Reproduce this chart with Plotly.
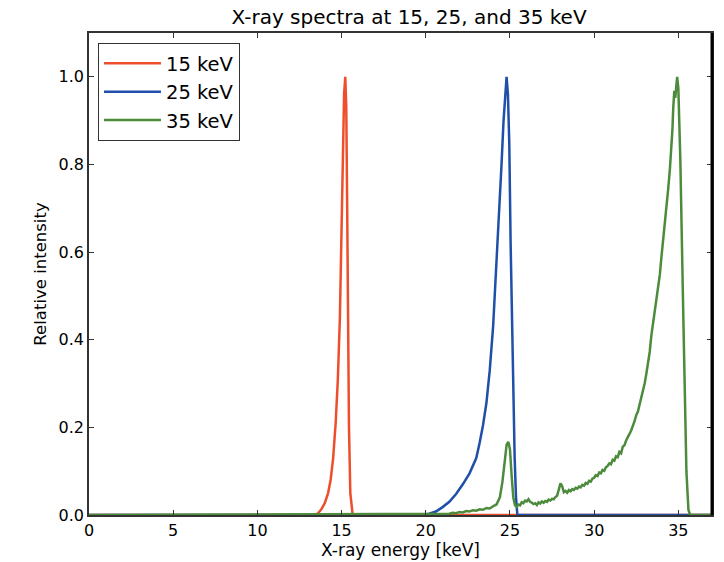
import plotly.graph_objects as go

# ---- data ----
red_x = [0, 13.4, 13.6, 13.8, 14.0, 14.2, 14.35, 14.5, 14.65, 14.78, 14.9, 15.0, 15.08, 15.15, 15.22,
         15.28, 15.33, 15.38, 15.44, 15.52, 15.6, 15.66, 37]
red_y = [0, 0, 0.004, 0.013, 0.027, 0.05, 0.08, 0.13, 0.21, 0.31, 0.45, 0.68, 0.85, 0.96, 1.0,
         0.93, 0.72, 0.43, 0.20, 0.05, 0.01, 0, 0]

blue_x = [0, 19.8, 20.2, 20.6, 21.0, 21.4, 21.8, 22.2, 22.6, 23.0, 23.2, 23.4, 23.6, 23.8, 24.0, 24.2,
          24.35, 24.5, 24.62, 24.72, 24.8, 24.88, 24.96, 25.04, 25.12, 25.2, 25.28, 25.36, 25.44, 37]
blue_y = [0, 0, 0.003, 0.008, 0.018, 0.030, 0.048, 0.070, 0.095, 0.13, 0.165, 0.205, 0.255, 0.33, 0.43, 0.57,
          0.68, 0.80, 0.90, 0.97, 1.0, 0.96, 0.85, 0.62, 0.42, 0.26, 0.13, 0.04, 0, 0]

green_x = [0, 21.4, 21.6, 21.8, 22.0, 22.2, 22.4, 22.6, 22.8, 23.0, 23.2, 23.4, 23.6, 23.8, 24.0, 24.2,
           24.4, 24.55, 24.7, 24.8, 24.9, 25.0, 25.1, 25.2, 25.3,
           25.4, 25.5, 25.6, 25.7, 25.8, 25.9, 26.0, 26.1, 26.2, 26.3, 26.4, 26.5, 26.6, 26.7, 26.8, 26.9,
           27.0, 27.1, 27.2, 27.3, 27.4, 27.5, 27.6, 27.7, 27.8, 27.9, 28.0, 28.1, 28.2, 28.3, 28.4, 28.5,
           28.6, 28.7, 28.8, 28.9, 29.0, 29.1, 29.2, 29.3, 29.4, 29.5, 29.6, 29.7, 29.8, 29.9, 30.0, 30.1,
           30.2, 30.3, 30.4, 30.5, 30.6, 30.7, 30.8, 30.9, 31.0, 31.1, 31.2, 31.3, 31.4, 31.5, 31.6, 31.7,
           31.8, 31.9, 32.0, 32.1, 32.2, 32.3, 32.4, 32.5, 32.6, 32.7, 32.8, 32.9, 33.0, 33.1, 33.2, 33.3,
           33.4, 33.5, 33.6, 33.7, 33.8, 33.9, 34.0, 34.1, 34.2, 34.3, 34.4, 34.5, 34.6, 34.65, 34.7,
           34.76, 34.82, 34.88, 34.93, 35.0, 35.12, 35.27, 35.37, 35.48, 35.6, 35.7, 37]
green_y = [0, 0.003, 0.005, 0.004, 0.007, 0.006, 0.009, 0.008, 0.011, 0.010, 0.013, 0.012, 0.016, 0.015, 0.020, 0.024,
           0.040, 0.075, 0.125, 0.160, 0.167, 0.150, 0.090, 0.040, 0.022,
           0.019, 0.024, 0.022, 0.029, 0.027, 0.033, 0.031, 0.036, 0.030, 0.028, 0.025, 0.027, 0.023, 0.029, 0.026, 0.031,
           0.028, 0.032, 0.030, 0.035, 0.033, 0.037, 0.036, 0.041, 0.044, 0.058, 0.072, 0.066, 0.052, 0.055, 0.051, 0.057,
           0.054, 0.059, 0.057, 0.062, 0.060, 0.065, 0.063, 0.069, 0.067, 0.073, 0.071, 0.078, 0.076, 0.083, 0.085, 0.091,
           0.089, 0.097, 0.095, 0.103, 0.101, 0.109, 0.112, 0.118, 0.116, 0.126, 0.124, 0.134, 0.132, 0.144, 0.141, 0.156,
           0.159, 0.170, 0.176, 0.185, 0.193, 0.203, 0.214, 0.228, 0.236, 0.252, 0.266, 0.282, 0.300, 0.322, 0.345, 0.372,
           0.410, 0.436, 0.463, 0.488, 0.515, 0.548, 0.590, 0.626, 0.660, 0.700, 0.745, 0.790, 0.845, 0.880, 0.930,
           0.968, 0.952, 0.975, 1.0, 0.975, 0.81, 0.505, 0.285, 0.10, 0.012, 0, 0]

series_names = ["15 keV", "25 keV", "35 keV"]
series_colors = ["#EE4E2C", "#1F4FA8", "#4B8B3B"]

x_ticks = [0, 5, 10, 15, 20, 25, 30, 35]
y_ticks = [0.0, 0.2, 0.4, 0.6, 0.8, 1.0]

fig = go.Figure()
for (xs, ys), name, color in zip([(red_x, red_y), (blue_x, blue_y), (green_x, green_y)], series_names, series_colors):
    fig.add_trace(go.Scatter(x=xs, y=ys, mode="lines", name=name,
                             line=dict(color=color, width=2.5)))

font_family = "DejaVu Sans"
fig.update_layout(
    width=724, height=562,
    margin=dict(l=89, r=12, t=33, b=47),
    paper_bgcolor="white", plot_bgcolor="white",
    font=dict(family=font_family, size=16, color="black"),
    title=dict(text="X-ray spectra at 15, 25, and 35 keV", x=0.565, xanchor="center",
               y=0.970, yanchor="middle", font=dict(size=20, family=font_family, color="black")),
    showlegend=True,
    legend=dict(x=0.0144, y=0.979, xanchor="left", yanchor="top",
                bgcolor="white", bordercolor="#333333", borderwidth=1,
                font=dict(size=19.5, family=font_family, color="black"),
                itemwidth=57, tracegroupgap=0),
)
fig.update_xaxes(range=[0, 37], tickvals=x_ticks, ticktext=[str(v) for v in x_ticks],
                 ticks="inside", ticklen=5, tickcolor="#333333", mirror="ticks",
                 showline=True, linecolor="#333333", linewidth=1.5, showgrid=False, zeroline=False,
                 title=dict(text="X-ray energy [keV]", font=dict(size=17), standoff=2),
                 tickfont=dict(size=16), automargin=False)
fig.update_yaxes(range=[0, 1.1], tickvals=y_ticks, ticktext=[f"{v:.1f}" for v in y_ticks],
                 ticks="inside", ticklen=5, tickcolor="#333333", mirror="ticks",
                 showline=True, linecolor="#333333", linewidth=1.5, showgrid=False, zeroline=False,
                 title=dict(text="Relative intensity", font=dict(size=16.5), standoff=8),
                 tickfont=dict(size=16), automargin=False)
# thicker black right edge as in the reference
fig.add_shape(type="line", xref="paper", yref="paper", x0=1, x1=1, y0=0, y1=1,
              line=dict(color="black", width=3))

fig.write_html("out.html", config={"displayModeBar": False},
               post_script="document.body.style.margin='0';document.body.style.overflow='hidden';")
